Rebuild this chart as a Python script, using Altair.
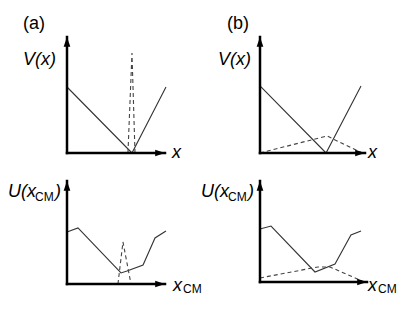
import altair as alt
import pandas as pd

# ---- schematic curves, in % of each panel's axis length ----
# Panel (a), V(x)
A_V_SOLID_X = [0, 66.3, 101]
A_V_SOLID_Y = [56.9, 0, 56.9]
A_V_DASH_X = [62.2, 66.3, 69.4]
A_V_DASH_Y = [0, 86.2, 0]
# Panel (b), V(x)
B_V_SOLID_X = [0, 62.9, 96.2]
B_V_SOLID_Y = [57.8, 0, 57.8]
B_V_DASH_X = [0, 63.8, 97.1]
B_V_DASH_Y = [0, 14.7, 0]
# Panel (a), U(x_CM)
A_U_SOLID_X = [0, 11.2, 55.1, 61.2, 77.6, 89.8, 101]
A_U_SOLID_Y = [50.5, 54.4, 10.7, 12.6, 18.4, 44.7, 51.5]
A_U_DASH_X = [52, 57.1, 65.3]
A_U_DASH_Y = [0, 40.8, 0]
# Panel (b), U(x_CM)
B_U_SOLID_X = [0, 10.3, 51.4, 70.1, 85, 94.4]
B_U_SOLID_Y = [52.5, 55.4, 9.9, 17.8, 46.5, 50.5]
B_U_DASH_X = [0, 54.2, 65.4, 95.3]
B_U_DASH_Y = [4, 14.9, 14.9, 1]

FONT = "Liberation Sans"
XS = alt.Scale(domain=[0, 100], nice=False, zero=False)
YS = alt.Scale(domain=[0, 100], nice=False, zero=False)
ARROW_UP = "M0,0L0.75,2.2L-0.75,2.2Z"
ARROW_RIGHT = "M0,0L-2.2,-0.75L-2.2,0.75Z"


def curve(xs, ys, dashed):
    df = pd.DataFrame({"x": xs, "y": ys, "i": list(range(len(xs)))})
    props = dict(color="#333333", strokeWidth=1.1)
    if dashed:
        props.update(strokeDash=[4, 3], color="#444444")
    return alt.Chart(df).mark_line(**props).encode(
        x=alt.X("x:Q", scale=XS, axis=None),
        y=alt.Y("y:Q", scale=YS, axis=None),
        order="i:O",
    )


def label(text, px, py, size=18, italic=True):
    props = dict(font=FONT, fontSize=size, align="left", baseline="alphabetic", color="black")
    if italic:
        props["fontStyle"] = "italic"
    return alt.Chart(pd.DataFrame({"t": [text]})).mark_text(**props).encode(
        text="t:N", x=alt.value(px), y=alt.value(py)
    )


def panel(sx, sy, dx, dy, w, h, labels):
    ax = pd.DataFrame({"x0": [0], "x1": [100], "y0": [0], "y1": [100]})
    xaxis = alt.Chart(ax).mark_rule(color="black", strokeWidth=2.5, strokeCap="square").encode(
        x=alt.X("x0:Q", scale=XS, axis=None), x2="x1:Q", y=alt.Y("y0:Q", scale=YS, axis=None)
    )
    yaxis = alt.Chart(ax).mark_rule(color="black", strokeWidth=2.5, strokeCap="square").encode(
        x=alt.X("x0:Q", scale=XS, axis=None), y=alt.Y("y0:Q", scale=YS, axis=None), y2="y1:Q"
    )
    tipx = alt.Chart(ax).mark_point(shape=ARROW_RIGHT, size=80, filled=True, color="black", opacity=1, strokeWidth=0).encode(
        x=alt.X("x1:Q", scale=XS, axis=None), y=alt.Y("y0:Q", scale=YS, axis=None)
    )
    tipy = alt.Chart(ax).mark_point(shape=ARROW_UP, size=80, filled=True, color="black", opacity=1, strokeWidth=0).encode(
        x=alt.X("x0:Q", scale=XS, axis=None), y=alt.Y("y1:Q", scale=YS, axis=None)
    )
    layers = [curve(sx, sy, False), curve(dx, dy, True), xaxis, yaxis, tipx, tipy]
    layers += [label(*l) for l in labels]
    return alt.layer(*layers).properties(width=w, height=h)


pa_top = panel(A_V_SOLID_X, A_V_SOLID_Y, A_V_DASH_X, A_V_DASH_Y, 98, 116, [
    ("(a)", -44, -8, 18, False),
    ("V(x)", -44, 28),
    ("x", 105, 121),
])
pb_top = panel(B_V_SOLID_X, B_V_SOLID_Y, B_V_DASH_X, B_V_DASH_Y, 105, 116, [
    ("(b)", -33, -8, 18, False),
    ("V(x)", -42, 28),
    ("x", 108, 121),
])
pa_bot = panel(A_U_SOLID_X, A_U_SOLID_Y, A_U_DASH_X, A_U_DASH_Y, 98, 103, [
    ("U(x", -59, 16),
    ("CM", -32, 20, 12, False),
    (")", -12, 16),
    ("x", 106, 110),
    ("CM", 116, 112, 12, False),
])
pb_bot = panel(B_U_SOLID_X, B_U_SOLID_Y, B_U_DASH_X, B_U_DASH_Y, 107, 101, [
    ("U(x", -59, 16),
    ("CM", -32, 20, 12, False),
    (")", -12, 16),
    ("x", 108, 110),
    ("CM", 118, 112, 12, False),
])

chart = (
    alt.concat(pa_top, pb_top, pa_bot, pb_bot, columns=2,
               spacing={"row": 28, "column": 95}, bounds="flush")
    .properties(padding={"left": 0, "top": 7, "right": 0, "bottom": 0}, background="white")
    .configure_view(stroke=None)
)

chart.save("out.html", embed_options={"renderer": "svg", "actions": False})
